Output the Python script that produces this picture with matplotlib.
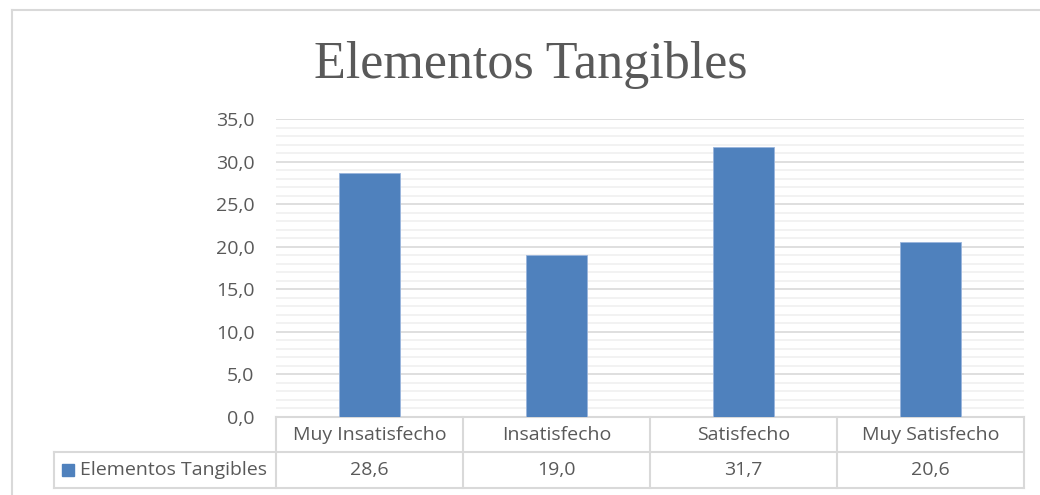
import matplotlib
matplotlib.use("Agg")
import matplotlib.pyplot as plt
from matplotlib.lines import Line2D
from matplotlib.patches import Rectangle
import matplotlib.transforms as mtransforms

categories = ["Muy Insatisfecho", "Insatisfecho", "Satisfecho", "Muy Satisfecho"]
values = [28.6, 19.0, 31.7, 20.6]
series_name = "Elementos Tangibles"
title = "Elementos Tangibles"
yticks = [0, 5, 10, 15, 20, 25, 30, 35]

W, H = 1040, 495
BAR = "#4f81bd"
GRID = "#d9d9d9"
MINOR = "#f0f0f0"
TXT = "#595959"
SANS = ["Open Sans", "DejaVu Sans"]
FS = 14

fig = plt.figure(figsize=(W / 100, H / 100), dpi=100)

def fx(px):
    return px / W

def fy(py):
    return 1 - py / H

# chart frame
fig.add_artist(Line2D([fx(12), fx(12)], [fy(10), fy(H + 5)], color=GRID, lw=1.5))
fig.add_artist(Line2D([fx(12), fx(W + 5)], [fy(10), fy(10)], color=GRID, lw=1.5))

left, right, top, bottom = 276, 1024, 119, 417
ax = fig.add_axes([fx(left), fy(bottom), fx(right - left), (bottom - top) / H])
x = range(len(categories))
ax.bar(x, values, width=0.33, color=BAR, edgecolor="#9ab5dc", linewidth=0.6, zorder=3)
ax.set_xlim(-0.5, len(categories) - 0.5)
ax.set_ylim(0, 35)
ax.set_yticks(yticks)
ax.set_yticklabels([f"{t:.1f}".replace(".", ",") for t in yticks],
                   fontsize=FS, color=TXT, family=SANS)
ax.set_yticks(range(0, 36), minor=True)
ax.tick_params(axis="y", which="both", length=0, pad=15.5)
ax.tick_params(axis="x", which="both", length=0, labelbottom=False)
ax.grid(axis="y", which="minor", color=MINOR, lw=1.2, zorder=0)
ax.grid(axis="y", which="major", color=GRID, lw=1.2, zorder=1)
for s in ax.spines.values():
    s.set_visible(False)

fig.text(fx(531), fy(78), title, ha="center", va="baseline",
         fontsize=37.5, color=TXT, family=["Liberation Serif", "DejaVu Serif"])

# data table beneath the plot
tr = mtransforms.blended_transform_factory(ax.transData, ax.transAxes)
hpx = bottom - top
cw = (right - left) / len(categories)
r0, r1, r2 = 0.0, -35 / hpx, -71 / hpx
xl = (54 - left) / cw - 0.5
n = len(categories)
lk = dict(color=GRID, lw=1.5, transform=tr, clip_on=False)
ax.plot([-0.5, n - 0.5], [r0, r0], **lk)
ax.plot([xl, n - 0.5], [r1, r1], **lk)
ax.plot([xl, n - 0.5], [r2, r2], **lk)
ax.plot([xl, xl], [r1, r2], **lk)
for b in range(n + 1):
    ax.plot([b - 0.5, b - 0.5], [r0, r2], **lk)

for i, (c, v) in enumerate(zip(categories, values)):
    ax.text(i, (r0 + r1) / 2, c, transform=tr, ha="center", va="center",
            fontsize=FS, color=TXT, family=SANS)
    ax.text(i, (r1 + r2) / 2, f"{v:.1f}".replace(".", ","), transform=tr,
            ha="center", va="center", fontsize=FS, color=TXT, family=SANS)

# legend key inside the table's label cell
key_h = 12 / hpx
ax.add_patch(Rectangle((xl + 8 / cw, (r1 + r2) / 2 - key_h / 2), 12 / cw, key_h,
                       transform=tr, color=BAR, clip_on=False))
ax.text(xl + 26 / cw, (r1 + r2) / 2, series_name, transform=tr, ha="left",
        va="center", fontsize=FS, color=TXT, family=SANS)

fig.savefig("out.png", dpi=100)
